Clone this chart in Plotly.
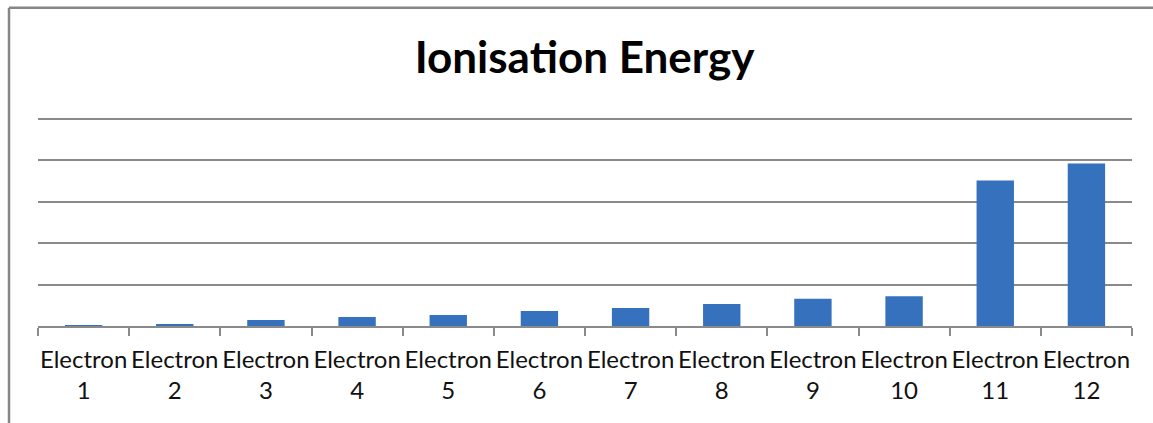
import plotly.graph_objects as go

categories = ["Electron<br>%d" % i for i in range(1, 13)]
energies = [700, 1500, 7300, 10900, 13300, 18200, 21800, 26700, 32800, 36000, 175600, 196200]
y_max = 250000
y_step = 50000

W, H = 1153, 423
L, R, T, B = 38, 21, 115, 97
pw, ph = W - L - R, H - T - B
# extend range a little so the top gridline (y_max) lands at ~119 px
y_top = y_max * (326 - 115) / (326 - 119)

fig = go.Figure(go.Bar(
    x=categories, y=energies,
    marker=dict(color="#3571BC", line=dict(width=0)),
    width=0.41,
))

def px_to_paper_x(px):
    return (px - L) / pw

def px_to_paper_y(py):
    return (H - B - py) / ph

border_col = "#868686"
fig.add_shape(type="line", xref="paper", yref="paper",
              x0=px_to_paper_x(9), x1=px_to_paper_x(1200),
              y0=px_to_paper_y(7.7), y1=px_to_paper_y(7.7),
              line=dict(color=border_col, width=2.5))
fig.add_shape(type="line", xref="paper", yref="paper",
              x0=px_to_paper_x(9), x1=px_to_paper_x(9),
              y0=px_to_paper_y(7.7), y1=px_to_paper_y(460),
              line=dict(color=border_col, width=2.5))

fig.update_layout(
    width=W, height=H,
    margin=dict(l=L, r=R, t=T, b=B, autoexpand=False),
    paper_bgcolor="white", plot_bgcolor="white",
    showlegend=False,
    title=dict(text="<b>Ionisation Energy</b>", x=0.507, xanchor="center",
               y=1 - 58 / H, yanchor="middle",
               font=dict(family="Lato", size=44, color="#000000")),
    font=dict(family="Lato", color="#000000"),
    xaxis=dict(
        showline=True, linecolor="#8a8a8a", linewidth=2,
        ticks="outside", tickson="boundaries", ticklen=8, tickwidth=2, tickcolor="#8a8a8a",
        tickfont=dict(family="Lato", size=24, color="#111111"),
        tickangle=0,
        ticklabelstandoff=11,
        showgrid=False, zeroline=False,
    ),
    yaxis=dict(
        range=[0, y_top], dtick=y_step, tick0=0,
        showticklabels=False, ticks="",
        showgrid=True, gridcolor="#8a8a8a", gridwidth=1.8,
        zeroline=False, showline=False,
    ),
    bargap=0.59,
)

fig.write_html("out.html", config={"displayModeBar": False},
               post_script="document.body.style.margin='0';document.body.style.overflow='hidden';")
